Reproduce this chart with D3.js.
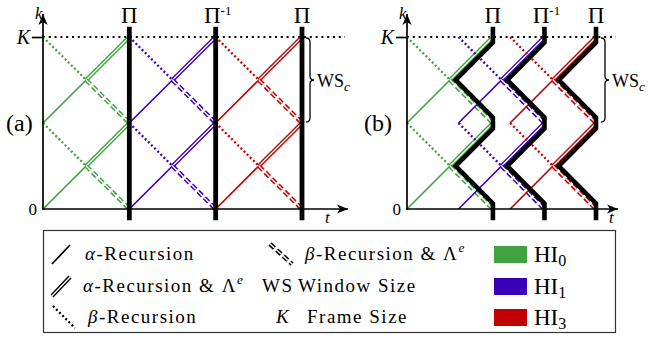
<!DOCTYPE html>
<html>
<head>
<meta charset="utf-8">
<script src="https://cdn.jsdelivr.net/npm/d3@7"></script>
<style>
  body { margin: 0; background: #fff; }
  svg text { font-family: "Liberation Serif", serif; fill: #000; }
</style>
</head>
<body>
<svg id="chart" width="653" height="339" font-family="Liberation Serif"></svg>
<script>
// Half-iterations and their colours
const hiNames = ["0", "1", "3"];
const hiColors = ["#41a33f", "#3b00b5", "#c30000"];

// Start of each half-iteration window along t (in units of WS_c)
const windowStartsA = [0, 1, 2];
const windowStartsB = [0, 0.6, 1.2];
const windowLength = 1;

// k levels: 0, WS_c, K  (K = two windows)
const kFrame = 2;
const kWindow = 1;
const subWindowBases = [0, 1];

// Permutation labels over each window end
const piLabels = [{ base: "Π", sup: "" }, { base: "Π", sup: "-1" }, { base: "Π", sup: "" }];

// Recursion pieces inside one sub-window, relative to window start and sub-window base
const recursionPieces = [
  { kind: "alpha",  t0: 0,   k0: 0,   t1: 0.5, k1: 0.5 },
  { kind: "alphaL", t0: 0.5, k0: 0.5, t1: 1,   k1: 1 },
  { kind: "beta",   t0: 0,   k0: 1,   t1: 0.5, k1: 0.5 },
  { kind: "betaL",  t0: 0.5, k0: 0.5, t1: 1,   k1: 0 }
];

// Boundary of overlapping windows, relative to the window end
const zz = 0.065;
const zigzagShape = [[0, 2.12], [0, 2 - zz], [-0.5 + zz, 1.5], [0, 1 + zz], [0, 1 - zz],
                     [-0.5 + zz, 0.5], [0, zz], [0, -0.13]];

// Legend entries
const legendLines = [
  { kind: "alpha",  label: [["α", "i"], ["-Recursion", ""]] },
  { kind: "alphaL", label: [["α", "i"], ["-Recursion & Λ", ""], ["e", "sup"]] },
  { kind: "beta",   label: [["β", "i"], ["-Recursion", ""]] }
];
const legendMid = [
  { kind: "betaL", key: "", label: [["β", "i"], ["-Recursion & Λ", ""], ["e", "sup"]] },
  { kind: null, key: "WS", keyItalic: false, label: [["Window Size", ""]] },
  { kind: null, key: "K", keyItalic: true, label: [["Frame Size", ""]] }
];

const svg = d3.select("#chart");

// arrow head for the axes
svg.append("defs").append("marker")
  .attr("id", "arrow").attr("viewBox", "-12 -6 13 12")
  .attr("refX", 0).attr("refY", 0)
  .attr("markerWidth", 13).attr("markerHeight", 12)
  .attr("markerUnits", "userSpaceOnUse").attr("orient", "auto")
  .append("path").attr("d", "M-11,-4.6 L0,0 L-11,4.6 L-8,0 Z").attr("fill", "#000");

function txt(sel) {
  return sel.append("text").attr("font-family", "Liberation Serif").attr("fill", "#000");
}

function addRich(sel, parts, size) {
  parts.forEach(([s, style]) => {
    const ts = sel.append("tspan").text(s);
    if (style === "i") ts.attr("font-style", "italic");
    if (style === "sup") ts.attr("font-style", "italic").attr("font-size", size * 0.7).attr("dy", -size * 0.4);
  });
}

// one recursion piece between two pixel points
function drawPiece(g, kind, p0, p1, color) {
  const line = d3.line();
  const pts = [p0, p1];
  if (kind === "alpha") {
    g.append("path").attr("d", line(pts)).attr("stroke", color).attr("stroke-width", 1.7).attr("fill", "none");
  } else if (kind === "alphaL") {
    g.append("path").attr("d", line(pts)).attr("stroke", color).attr("stroke-width", 4).attr("fill", "none");
    g.append("path").attr("d", line(pts)).attr("stroke", "#fff").attr("stroke-width", 1.3).attr("fill", "none");
  } else if (kind === "beta") {
    g.append("path").attr("d", line(pts)).attr("stroke", color).attr("stroke-width", 2.3)
      .attr("stroke-dasharray", "2 2.4").attr("fill", "none");
  } else if (kind === "betaL") {
    g.append("path").attr("d", line(pts)).attr("stroke", color).attr("stroke-width", 4.4)
      .attr("stroke-dasharray", "6 3").attr("fill", "none");
    g.append("path").attr("d", line(pts)).attr("stroke", "#fff").attr("stroke-width", 1.4)
      .attr("stroke-dasharray", "6 3").attr("fill", "none");
  }
}

function bracePath(x, y1, y2, w) {
  const ym = (y1 + y2) / 2, r = 4, xm = x + w / 2;
  return `M${x},${y1} Q${xm},${y1} ${xm},${y1 + r} L${xm},${ym - r} Q${xm},${ym} ${x + w},${ym}` +
         ` Q${xm},${ym} ${xm},${ym + r} L${xm},${y2 - r} Q${xm},${y2} ${x},${y2}`;
}

function drawPanel(cfg) {
  const x = d3.scaleLinear().domain([0, cfg.tMax]).range([cfg.x0, cfg.x1]);
  const y = d3.scaleLinear().domain([0, kFrame]).range([209, 37]);
  const g = svg.append("g");

  // frame size line
  g.append("line").attr("x1", x(0)).attr("x2", cfg.kLineEnd)
    .attr("y1", y(kFrame)).attr("y2", y(kFrame))
    .attr("stroke", "#000").attr("stroke-width", 2).attr("stroke-dasharray", "2 3.8");

  // recursions of each half-iteration
  cfg.starts.forEach((s, i) => {
    subWindowBases.forEach(b => {
      recursionPieces.forEach(p => {
        drawPiece(g, p.kind, [x(s + p.t0), y(b + p.k0)], [x(s + p.t1), y(b + p.k1)], hiColors[i]);
      });
    });
  });

  // window ends: straight bars or zigzag boundary
  cfg.starts.forEach((s, i) => {
    const e = s + windowLength;
    if (cfg.zigzag) {
      g.append("path")
        .attr("d", d3.line()(zigzagShape.map(([dt, k]) => [x(e + dt), y(k)])))
        .attr("stroke", "#000").attr("stroke-width", 4.6).attr("fill", "none")
        .attr("stroke-linejoin", "miter");
    } else {
      g.append("line").attr("x1", x(e)).attr("x2", x(e))
        .attr("y1", y(2.12)).attr("y2", y(-0.13))
        .attr("stroke", "#000").attr("stroke-width", 4.8);
    }
    const t = txt(g).attr("x", x(e) + (piLabels[i].sup ? 2 : 0)).attr("y", 23)
      .attr("text-anchor", "middle").attr("font-size", 23);
    t.append("tspan").text(piLabels[i].base);
    if (piLabels[i].sup) t.append("tspan").text(piLabels[i].sup).attr("font-size", 13).attr("dy", -8);
  });

  // axes
  g.append("line").attr("x1", x(0)).attr("x2", x(0)).attr("y1", y(0) + 0.8).attr("y2", 14)
    .attr("stroke", "#000").attr("stroke-width", 1.7).attr("marker-end", "url(#arrow)");
  g.append("line").attr("x1", x(0) - 0.8).attr("x2", cfg.tArrow).attr("y1", y(0)).attr("y2", y(0))
    .attr("stroke", "#000").attr("stroke-width", 1.7).attr("marker-end", "url(#arrow)");

  const yAxis = d3.axisLeft(y).tickValues([0, kFrame]).tickSize(11).tickPadding(2)
    .tickFormat(d => d === 0 ? "0" : "K");
  const ax = g.append("g").attr("transform", `translate(${x(0)},0)`).call(yAxis)
    .attr("font-family", "Liberation Serif");
  ax.select(".domain").remove();
  ax.selectAll(".tick line").attr("stroke", "#000").attr("stroke-width", 1.7)
    .attr("x2", d => d === 0 ? 0 : -11);
  ax.selectAll(".tick text").attr("font-family", "Liberation Serif").attr("fill", "#000")
    .attr("font-size", d => d === 0 ? 17 : 20)
    .attr("font-style", d => d === 0 ? "normal" : "italic")
    .attr("x", d => d === 0 ? -6 : -13)
    .attr("dy", d => d === 0 ? "0.3em" : "0.32em");

  txt(g).attr("x", x(0) - 8).attr("y", 19).attr("font-size", 17)
    .attr("font-style", "italic").text("k");
  txt(g).attr("x", cfg.tLabel).attr("y", 223).attr("font-size", 17)
    .attr("font-style", "italic").text("t");

  // panel tag
  txt(g).attr("x", cfg.tagX).attr("y", 131).attr("font-size", 24).text(cfg.tag);

  // window size brace
  const last = cfg.starts[cfg.starts.length - 1] + windowLength;
  const bx = x(last) + cfg.braceGap;
  g.append("path").attr("d", bracePath(bx, y(kFrame) + 1, y(kWindow) - 1, 8))
    .attr("stroke", "#000").attr("stroke-width", 1.3).attr("fill", "none");
  const ws = txt(g).attr("x", bx + 11).attr("y", 87).attr("font-size", 18);
  ws.append("tspan").text("WS");
  ws.append("tspan").text("c").attr("font-style", "italic").attr("font-size", 13).attr("dy", 4);
}

drawPanel({ tMax: 3, x0: 43, x1: 302, starts: windowStartsA, zigzag: false,
  kLineEnd: 345, tArrow: 348, tLabel: 325, tag: "(a)", tagX: 6, braceGap: 4 });
drawPanel({ tMax: 2.2, x0: 407, x1: 596, starts: windowStartsB, zigzag: true,
  kLineEnd: 616, tArrow: 618, tLabel: 609, tag: "(b)", tagX: 364, braceGap: 5 });

// legend
const lg = svg.append("g");
lg.append("rect").attr("x", 43.5).attr("y", 230.5).attr("width", 572).attr("height", 102)
  .attr("fill", "none").attr("stroke", "#333").attr("stroke-width", 1.2);

const rowY = [254, 286, 317];
const fs = 19;
const ls = 1.5;
legendLines.forEach((d, i) => {
  const icon = lg.append("g");
  const up = i < 2;
  drawPiece(icon, d.kind, up ? [52, rowY[i] + 10] : [53, rowY[i] - 11],
                          up ? [70, rowY[i] - 9] : [75, rowY[i] + 11], "#000");
  const t = txt(lg).attr("x", i === 1 ? 83 : (i === 0 ? 85 : 88)).attr("y", rowY[i] + 6)
    .attr("font-size", fs).attr("letter-spacing", ls);
  addRich(t, d.label, fs);
});
legendMid.forEach((d, i) => {
  if (d.kind) {
    const icon = lg.append("g");
    drawPiece(icon, d.kind, [270, rowY[i] - 10], [292, rowY[i] + 10], "#000");
    const t = txt(lg).attr("x", 305).attr("y", rowY[i] + 6).attr("font-size", fs).attr("letter-spacing", ls);
    addRich(t, d.label, fs);
  } else {
    txt(lg).attr("x", d.keyItalic ? 276 : 262).attr("y", rowY[i] + 6).attr("font-size", fs)
      .attr("letter-spacing", ls)
      .attr("font-style", d.keyItalic ? "italic" : "normal").text(d.key);
    const t = txt(lg).attr("x", d.keyItalic ? 307 : 298).attr("y", rowY[i] + 6).attr("font-size", fs)
      .attr("letter-spacing", ls);
    addRich(t, d.label, fs);
  }
});
hiNames.forEach((n, i) => {
  lg.append("rect").attr("x", 494).attr("y", rowY[i] - 8).attr("width", 33).attr("height", 17)
    .attr("fill", hiColors[i]);
  const t = txt(lg).attr("x", 534).attr("y", rowY[i] + 8).attr("font-size", 23);
  t.append("tspan").text("HI");
  t.append("tspan").text(n).attr("font-size", 16).attr("dy", 4);
});
</script>
</body>
</html>
